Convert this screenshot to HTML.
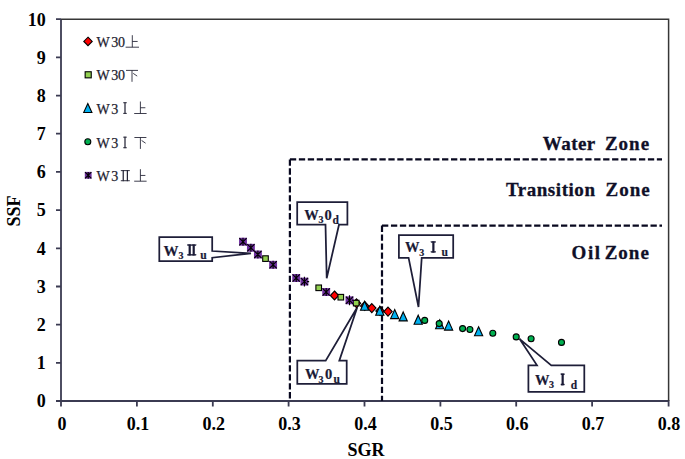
<!DOCTYPE html><html><head><meta charset="utf-8"><style>html,body{margin:0;padding:0;background:#fff;}svg{display:block;}text{font-family:"Liberation Serif",serif;}</style></head><body>
<svg width="685" height="459" viewBox="0 0 685 459">
<rect width="685" height="459" fill="#fff"/>
<g stroke="#3b3b52" stroke-width="1.8" fill="none">
<path d="M56,19.2 H61 M61,19.2 V406.5 M56,401 H668.6 V406.5"/>
<path d="M56,362.8 H61 M56,324.6 H61 M56,286.5 H61 M56,248.3 H61 M56,210.1 H61 M56,171.9 H61 M56,133.7 H61 M56,95.6 H61 M56,57.4 H61 M136.9,401 V406.5 M212.8,401 V406.5 M288.6,401 V406.5 M364.5,401 V406.5 M440.4,401 V406.5 M516.2,401 V406.5 M592.1,401 V406.5 "/>
</g>
<path d="M61,19.2 H668.6 V401" stroke="#363636" stroke-width="1.5" fill="none"/>
<g font-weight="bold" font-size="18" fill="#000">
<text x="45.8" y="407.3" text-anchor="end">0</text>
<text x="45.8" y="369.1" text-anchor="end">1</text>
<text x="45.8" y="330.9" text-anchor="end">2</text>
<text x="45.8" y="292.8" text-anchor="end">3</text>
<text x="45.8" y="254.6" text-anchor="end">4</text>
<text x="45.8" y="216.4" text-anchor="end">5</text>
<text x="45.8" y="178.2" text-anchor="end">6</text>
<text x="45.8" y="140.0" text-anchor="end">7</text>
<text x="45.8" y="101.9" text-anchor="end">8</text>
<text x="45.8" y="63.7" text-anchor="end">9</text>
<text x="45.8" y="25.5" text-anchor="end">10</text>
<text x="62.0" y="429.5" text-anchor="middle">0</text>
<text x="137.9" y="429.5" text-anchor="middle">0.1</text>
<text x="213.8" y="429.5" text-anchor="middle">0.2</text>
<text x="289.6" y="429.5" text-anchor="middle">0.3</text>
<text x="365.5" y="429.5" text-anchor="middle">0.4</text>
<text x="441.4" y="429.5" text-anchor="middle">0.5</text>
<text x="517.2" y="429.5" text-anchor="middle">0.6</text>
<text x="593.1" y="429.5" text-anchor="middle">0.7</text>
<text x="669.0" y="429.5" text-anchor="middle">0.8</text>
<text x="366" y="455.5" text-anchor="middle" textLength="37">SGR</text>
<text transform="translate(20.1,210.9) rotate(-90)" text-anchor="middle">SSF</text>
</g>
<g stroke="#08081f" stroke-width="2.2" fill="none" stroke-dasharray="6.3 2.65">
<path d="M289.9,159.4 V401 M289.9,159.4 H662"/>
<path d="M382,225.6 V401 M382,225.6 H662"/>
</g>
<g font-weight="bold" font-size="19" fill="#101028" stroke="#101028" stroke-width="0.3">
<text x="542.8" y="150.1" letter-spacing="0.45">Water</text>
<text x="604.9" y="150.1" letter-spacing="1.0">Zone</text>
<text x="505.9" y="196.0" letter-spacing="0.55">Transition</text>
<text x="605.5" y="196.0" letter-spacing="1.0">Zone</text>
<text x="571.6" y="259.4" letter-spacing="1.6">Oil</text>
<text x="604.7" y="259.4" letter-spacing="1.0">Zone</text>
</g>
<g stroke="#1e1e38" stroke-width="1.75" fill="#fff" stroke-linejoin="miter">
<path d="M159.3,237.2 H212.2 V251 L251,253.4 L212.2,257.7 V261 H159.3 Z"/>
<path d="M297.2,202 H347.4 V224.7 H339 L326.7,278.3 L325.5,224.7 H297.2 Z"/>
<path d="M398.9,235.1 H453.2 V257.9 H421.7 L418.5,307 L408.6,257.9 H398.9 Z"/>
<path d="M297.3,360.7 H325.7 L357.3,307.3 L339.3,360.7 H346.7 V383.9 H297.3 Z"/>
<path d="M528.4,365.3 H537 L519.5,338.8 L551.3,365.3 H584.3 V391.9 H528.4 Z"/>
</g>
<g font-weight="bold" fill="#1a1a36" stroke="#1a1a36" stroke-width="0.2">
<text x="163.6" y="255.6" font-size="15">W</text>
<text x="178.5" y="258.6" font-size="10">3</text>
<text x="200.2" y="259.0" font-size="11.5">u</text>
<g fill="#1a1a36"><rect x="187.40" y="244.50" width="8.70" height="1.2"/><rect x="187.40" y="254.20" width="8.70" height="1.2"/><rect x="188.75" y="244.50" width="2.0" height="10.90"/><rect x="192.75" y="244.50" width="2.0" height="10.90"/></g>
<text x="304.2" y="219.5" font-size="14.5">W</text>
<text x="318.4" y="222.6" font-size="10">3</text>
<text x="324.6" y="219.6" font-size="14.5">0</text>
<text x="332.5" y="223.6" font-size="11.5">d</text>
<text x="405" y="252.3" font-size="14.5">W</text>
<text x="419.2" y="255.6" font-size="10">3</text>
<text x="441.6" y="256.4" font-size="11.5">u</text>
<g fill="#1a1a36"><rect x="430.90" y="241.40" width="4.90" height="1.2"/><rect x="430.90" y="251.30" width="4.90" height="1.2"/><rect x="432.35" y="241.40" width="2.0" height="11.10"/></g>
<text x="304.9" y="378.6" font-size="14.5">W</text>
<text x="318.4" y="382.8" font-size="10">3</text>
<text x="325.1" y="378.8" font-size="14.5">0</text>
<text x="333.4" y="383.4" font-size="11.5">u</text>
<text x="534.9" y="385.1" font-size="14.5">W</text>
<text x="548.9" y="387.8" font-size="10">3</text>
<text x="570.8" y="388.5" font-size="11.5">d</text>
<g fill="#1a1a36"><rect x="560.90" y="373.70" width="3.60" height="1.2"/><rect x="560.90" y="383.90" width="3.60" height="1.2"/><rect x="561.70" y="373.70" width="2.0" height="11.40"/></g>
</g>
<path d="M334.5,291.00 L338.70,295.5 L334.5,300.00 L330.30,295.5 Z" fill="#ff0000" stroke="#000" stroke-width="1.1"/>
<path d="M356.5,298.80 L360.70,303.3 L356.5,307.80 L352.30,303.3 Z" fill="#ff0000" stroke="#000" stroke-width="1.1"/>
<path d="M364.7,301.50 L368.90,306 L364.7,310.50 L360.50,306 Z" fill="#ff0000" stroke="#000" stroke-width="1.1"/>
<path d="M371.8,303.60 L376.00,308.1 L371.8,312.60 L367.60,308.1 Z" fill="#ff0000" stroke="#000" stroke-width="1.1"/>
<path d="M380,306.50 L384.20,311 L380,315.50 L375.80,311 Z" fill="#ff0000" stroke="#000" stroke-width="1.1"/>
<path d="M388,307.10 L392.20,311.6 L388,316.10 L383.80,311.6 Z" fill="#ff0000" stroke="#000" stroke-width="1.1"/>
<rect x="262.70" y="255.80" width="5.6" height="5.6" fill="#92d050" stroke="#000" stroke-width="1.1"/>
<rect x="315.90" y="285.00" width="5.6" height="5.6" fill="#92d050" stroke="#000" stroke-width="1.1"/>
<rect x="338.00" y="294.40" width="5.6" height="5.6" fill="#92d050" stroke="#000" stroke-width="1.1"/>
<rect x="353.40" y="300.30" width="5.6" height="5.6" fill="#92d050" stroke="#000" stroke-width="1.1"/>
<path d="M364.6,301.30 L368.70,310.30 L360.50,310.30 Z" fill="#00b0f0" stroke="#000" stroke-width="1.1" stroke-linejoin="miter"/>
<path d="M379.8,306.30 L383.90,315.30 L375.70,315.30 Z" fill="#00b0f0" stroke="#000" stroke-width="1.1" stroke-linejoin="miter"/>
<path d="M394.7,309.60 L398.80,318.60 L390.60,318.60 Z" fill="#00b0f0" stroke="#000" stroke-width="1.1" stroke-linejoin="miter"/>
<path d="M403.2,311.90 L407.30,320.90 L399.10,320.90 Z" fill="#00b0f0" stroke="#000" stroke-width="1.1" stroke-linejoin="miter"/>
<path d="M418.2,315.20 L422.30,324.20 L414.10,324.20 Z" fill="#00b0f0" stroke="#000" stroke-width="1.1" stroke-linejoin="miter"/>
<path d="M439.7,319.80 L443.80,328.80 L435.60,328.80 Z" fill="#00b0f0" stroke="#000" stroke-width="1.1" stroke-linejoin="miter"/>
<path d="M448.6,321.10 L452.70,330.10 L444.50,330.10 Z" fill="#00b0f0" stroke="#000" stroke-width="1.1" stroke-linejoin="miter"/>
<path d="M478.6,326.80 L482.70,335.80 L474.50,335.80 Z" fill="#00b0f0" stroke="#000" stroke-width="1.1" stroke-linejoin="miter"/>
<circle cx="424.7" cy="320.4" r="3.0" fill="#00b050" stroke="#000" stroke-width="1.1"/>
<circle cx="439.2" cy="323.6" r="3.0" fill="#00b050" stroke="#000" stroke-width="1.1"/>
<circle cx="462.6" cy="328.6" r="3.0" fill="#00b050" stroke="#000" stroke-width="1.1"/>
<circle cx="469.9" cy="329.5" r="3.0" fill="#00b050" stroke="#000" stroke-width="1.1"/>
<circle cx="492.8" cy="333.2" r="3.0" fill="#00b050" stroke="#000" stroke-width="1.1"/>
<circle cx="516.2" cy="336.9" r="3.0" fill="#00b050" stroke="#000" stroke-width="1.1"/>
<circle cx="531.1" cy="338.8" r="3.0" fill="#00b050" stroke="#000" stroke-width="1.1"/>
<circle cx="561.5" cy="342.4" r="3.0" fill="#00b050" stroke="#000" stroke-width="1.1"/>
<rect x="239.05" y="237.75" width="7.9" height="7.9" fill="#7030a0"/><path d="M239.37,238.07 L246.63,245.33 M246.63,238.07 L239.37,245.33 M243,237.75 V245.65" stroke="#000" stroke-width="1.1"/>
<rect x="246.95" y="243.85" width="7.9" height="7.9" fill="#7030a0"/><path d="M247.27,244.17 L254.53,251.43 M254.53,244.17 L247.27,251.43 M250.9,243.85 V251.75" stroke="#000" stroke-width="1.1"/>
<rect x="253.95" y="250.55" width="7.9" height="7.9" fill="#7030a0"/><path d="M254.27,250.87 L261.53,258.13 M261.53,250.87 L254.27,258.13 M257.9,250.55 V258.45" stroke="#000" stroke-width="1.1"/>
<rect x="269.15" y="260.85" width="7.9" height="7.9" fill="#7030a0"/><path d="M269.47,261.17 L276.73,268.43 M276.73,261.17 L269.47,268.43 M273.1,260.85 V268.75" stroke="#000" stroke-width="1.1"/>
<rect x="292.25" y="274.05" width="7.9" height="7.9" fill="#7030a0"/><path d="M292.57,274.37 L299.83,281.63 M299.83,274.37 L292.57,281.63 M296.2,274.05 V281.95" stroke="#000" stroke-width="1.1"/>
<rect x="300.45" y="277.65" width="7.9" height="7.9" fill="#7030a0"/><path d="M300.77,277.97 L308.03,285.23 M308.03,277.97 L300.77,285.23 M304.4,276.65 V286.55 M309.15,281.60 L306.85,281.60" stroke="#000" stroke-width="1.1"/>
<rect x="322.25" y="288.05" width="7.9" height="7.9" fill="#7030a0"/><path d="M322.57,288.37 L329.83,295.63 M329.83,288.37 L322.57,295.63 M326.2,288.05 V295.95" stroke="#000" stroke-width="1.1"/>
<rect x="345.55" y="296.35" width="7.9" height="7.9" fill="#7030a0"/><path d="M345.87,296.67 L353.13,303.93 M353.13,296.67 L345.87,303.93 M349.5,295.35 V305.25 M354.25,300.30 L351.95,300.30" stroke="#000" stroke-width="1.1"/>
<path d="M88,37.20 L92.20,41.4 L88,45.60 L83.80,41.4 Z" fill="#ff0000" stroke="#000" stroke-width="1.1"/>
<rect x="85.15" y="71.75" width="6.1" height="6.1" fill="#92d050" stroke="#000" stroke-width="1.1"/>
<path d="M87.8,103.50 L91.90,112.50 L83.70,112.50 Z" fill="#00b0f0" stroke="#000" stroke-width="1.1" stroke-linejoin="miter"/>
<circle cx="87.8" cy="141.7" r="3.0" fill="#00b050" stroke="#000" stroke-width="1.1"/>
<rect x="84.80" y="171.90" width="6.8" height="6.8" fill="#7030a0"/><path d="M85.07,172.17 L91.33,178.43 M91.33,172.17 L85.07,178.43 M88.2,171.90 V178.70" stroke="#000" stroke-width="1.1"/>
<g font-size="14" fill="#1e1e30" stroke="#1e1e30" stroke-width="0.25">
<text x="96.4" y="46.6">W</text>
<text x="111.3" y="46.6">3</text>
<text x="96.4" y="79.6">W</text>
<text x="111.3" y="79.6">3</text>
<text x="96.4" y="113.5">W</text>
<text x="111.3" y="113.5">3</text>
<text x="96.4" y="147.9">W</text>
<text x="111.3" y="147.9">3</text>
<text x="96.4" y="181.0">W</text>
<text x="111.3" y="181.0">3</text>
<text x="118.0" y="46.6">0</text>
<text x="118.0" y="79.6">0</text>
</g>
<g fill="#1e1e30"><rect x="123.20" y="102.30" width="3.60" height="0.9"/><rect x="123.20" y="112.90" width="3.60" height="0.9"/><rect x="124.40" y="102.30" width="1.2" height="11.50"/></g>
<g fill="#1e1e30"><rect x="123.20" y="136.70" width="3.60" height="0.9"/><rect x="123.20" y="147.30" width="3.60" height="0.9"/><rect x="124.40" y="136.70" width="1.2" height="11.50"/></g>
<g fill="#1e1e30"><rect x="120.80" y="170.20" width="9.00" height="0.9"/><rect x="120.80" y="180.30" width="9.00" height="0.9"/><rect x="122.63" y="170.20" width="1.2" height="11.00"/><rect x="126.77" y="170.20" width="1.2" height="11.00"/></g>
<path d="M132.30,35.20 V47.20 M132.30,41.44 H137.66 M125.60,47.20 H139.00" stroke="#1e1e30" stroke-width="1" fill="none" opacity="0.85"/>
<path d="M126.00,70.40 H138.00 M132.00,70.40 V81.80 M133.20,73.36 L137.20,76.10" stroke="#1e1e30" stroke-width="1" fill="none" opacity="0.85"/>
<path d="M140.40,101.50 V113.50 M140.40,107.74 H145.36 M134.20,113.50 H146.60" stroke="#1e1e30" stroke-width="1" fill="none" opacity="0.85"/>
<path d="M134.40,137.50 H146.40 M140.40,137.50 V148.90 M141.60,140.46 L145.60,143.20" stroke="#1e1e30" stroke-width="1" fill="none" opacity="0.85"/>
<path d="M140.40,169.20 V181.20 M140.40,175.44 H145.36 M134.20,181.20 H146.60" stroke="#1e1e30" stroke-width="1" fill="none" opacity="0.85"/>
</svg></body></html>
